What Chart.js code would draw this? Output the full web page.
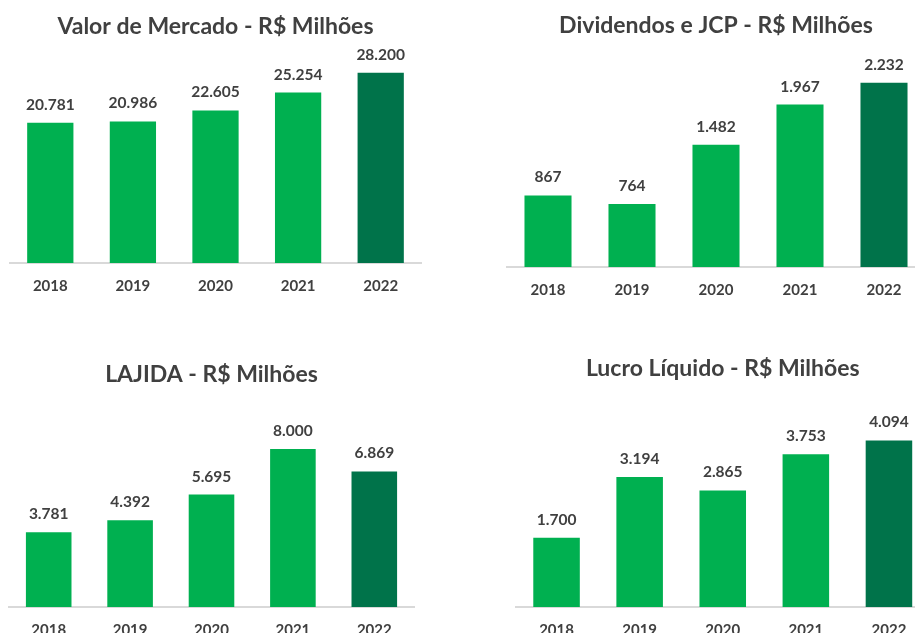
<!DOCTYPE html>
<html>
<head>
<meta charset="utf-8">
<script src="https://cdn.jsdelivr.net/npm/chart.js@4.4.1/dist/chart.umd.min.js"></script>
<style>
  html, body { margin: 0; padding: 0; background: #fff; overflow: hidden; width: 915px; height: 633px; }
  .box { position: absolute; }
</style>
</head>
<body>
<div class="box" id="b1"><canvas id="c1"></canvas></div>
<div class="box" id="b2"><canvas id="c2"></canvas></div>
<div class="box" id="b3"><canvas id="c3"></canvas></div>
<div class="box" id="b4"><canvas id="c4"></canvas></div>
<script>
// dados
const anos = ['2018', '2019', '2020', '2021', '2022'];
const valorMercado = [20781, 20986, 22605, 25254, 28200];
const dividendosJcp = [867, 764, 1482, 1967, 2232];
const lajida = [3781, 4392, 5695, 8000, 6869];
const lucroLiquido = [1700, 3194, 2865, 3753, 4094];

const titulos = [
    'Valor de Mercado - R$ Milhões',
    'Dividendos e JCP - R$ Milhões',
    'LAJIDA - R$ Milhões',
    'Lucro Líquido - R$ Milhões'
];

const verde = '#00B050';
const verdeEscuro = '#00734A';
const texto = '#404040';
const fonte = 'Lato, Carlito, Calibri, sans-serif';

// formata com ponto de milhar
function fmt(v) {
    return String(v).replace(/\B(?=(\d{3})+(?!\d))/g, '.');
}

// rotulos de valor acima das barras
const rotulos = {
    id: 'rotulos',
    afterDatasetsDraw(chart) {
        const c = chart.ctx;
        const meta = chart.getDatasetMeta(0);
        c.save();
        c.font = 'bold 15.5px ' + fonte;
        c.fillStyle = texto;
        c.textAlign = 'center';
        c.textBaseline = 'middle';
        meta.data.forEach((bar, i) => {
            c.fillText(fmt(chart.data.datasets[0].data[i]), bar.x, bar.y - 18);
        });
        c.restore();
    }
};

function grafico(n, dados, ymax, p) {
    const box = document.getElementById('b' + n);
    const axisH = 46; // altura real do eixo x medida
    box.style.left = p.left + 'px';
    box.style.top = p.top + 'px';
    box.style.width = p.width + 'px';
    box.style.height = (p.baseline - p.top + axisH + 4) + 'px';

    new Chart(document.getElementById('c' + n), {
        type: 'bar',
        data: {
            labels: anos,
            datasets: [{
                data: dados,
                backgroundColor: [verde, verde, verde, verde, verdeEscuro],
                barPercentage: 0.56,
                categoryPercentage: 1
            }]
        },
        options: {
            responsive: true,
            maintainAspectRatio: false,
            animation: false,
            layout: { padding: { left: 0, right: 0, top: 0, bottom: 4 } },
            plugins: {
                legend: { display: false },
                tooltip: { enabled: false },
                title: {
                    display: true,
                    text: titulos[n - 1],
                    color: texto,
                    font: { family: fonte, size: 23, weight: 'bold', lineHeight: 1.2 },
                    padding: { top: p.titleY - p.top - 12, bottom: p.plotTop - p.titleY - 16 }
                }
            },
            scales: {
                x: {
                    grid: { display: false, drawTicks: false },
                    border: { display: true, color: '#D9D9D9', width: 2 },
                    ticks: {
                        color: texto,
                        padding: 14,
                        maxRotation: 0,
                        font: { family: fonte, size: 15, weight: 'bold', lineHeight: 1.2 }
                    }
                },
                y: {
                    display: false,
                    min: 0,
                    max: ymax
                }
            }
        },
        plugins: [rotulos]
    });
}

grafico(1, valorMercado, 30000, { left: 9, width: 413, top: 0, titleY: 25, plotTop: 61, baseline: 263 });
grafico(2, dividendosJcp, 2500, { left: 505.5, width: 420, top: 0, titleY: 24, plotTop: 61, baseline: 267 });
grafico(3, lajida, 10000, { left: 8, width: 407, top: 340, titleY: 373, plotTop: 410, baseline: 607 });
grafico(4, lucroLiquido, 5000, { left: 514.5, width: 415.5, top: 340, titleY: 367, plotTop: 404, baseline: 607 });
</script>
</body>
</html>
